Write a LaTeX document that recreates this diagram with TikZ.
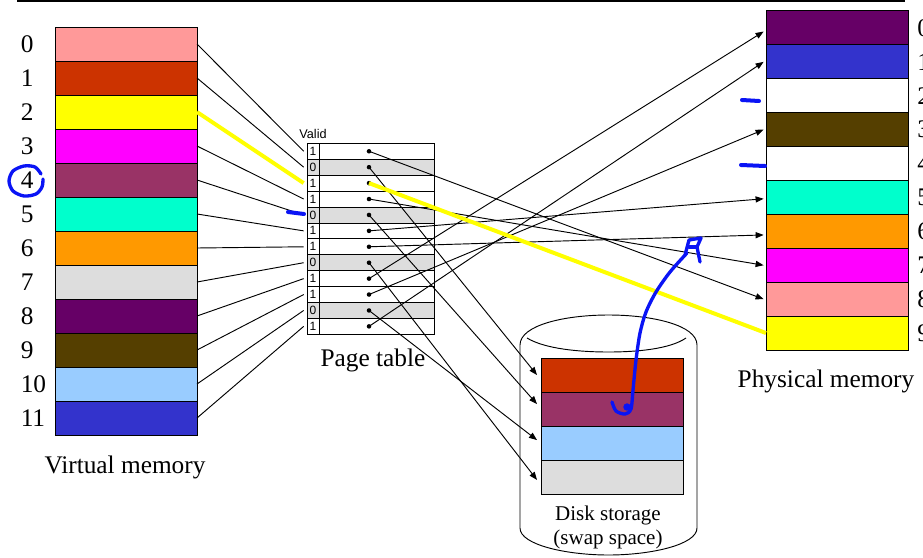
\documentclass[tikz,border=0pt]{standalone}
\usepackage{fontspec}
\setmainfont{Liberation Serif}
\newfontfamily\arialfont{Liberation Sans}
\usetikzlibrary{arrows.meta}

% page colours
\definecolor{pgpink}{HTML}{FF9999}
\definecolor{pgrust}{HTML}{CC3300}
\definecolor{pgyellow}{HTML}{FFFF00}
\definecolor{pgmagenta}{HTML}{FF00FF}
\definecolor{pgplum}{HTML}{993366}
\definecolor{pgaqua}{HTML}{00FFCC}
\definecolor{pgorange}{HTML}{FF9900}
\definecolor{pggray}{HTML}{DDDDDD}
\definecolor{pgpurple}{HTML}{660066}
\definecolor{pgbrown}{HTML}{553F00}
\definecolor{pgsky}{HTML}{99CCFF}
\definecolor{pgblue}{HTML}{3333CC}
\definecolor{inkblue}{HTML}{0A14F5}

\begin{document}
\begin{tikzpicture}[x=0.75pt,y=-0.75pt,
  cell/.style={draw=black, line width=0.75pt, inner sep=0pt, outer sep=0pt,
               minimum width=106.5pt, minimum height=25.5pt},
  numlabel/.style={inner sep=0pt, font=\fontsize{19}{22}\selectfont, anchor=west},
  caption/.style={inner sep=0pt, font=\fontsize{19}{22}\selectfont},
  ptentry/.style={draw=black, line width=0.6pt, inner sep=0pt, outer sep=0pt,
                  minimum width=86.25pt, minimum height=11.94pt},
  ptvalid/.style={draw=black, line width=0.6pt, inner sep=0pt, outer sep=0pt,
                  minimum width=9pt, minimum height=11.94pt,
                  font=\arialfont\fontsize{9}{9}\selectfont},
  ptdot/.style={circle, fill=black, inner sep=0pt, minimum size=3.4pt},
  link/.style={draw=black, line width=0.7pt},
  arrowlink/.style={link, -{Triangle[length=6pt,width=4.6pt]}},
  hilite/.style={draw=pgyellow, line width=3pt},
  ink/.style={draw=inkblue, line width=2.5pt, line cap=round, line join=round}]

\useasboundingbox (0,0) rectangle (923,557);
\clip (0,0) rectangle (923,557);

% rule along the top
\draw[line width=1.5pt] (17,1) -- (905,1);

% virtual memory
\foreach \c [count=\i from 0] in {pgpink,pgrust,pgyellow,pgmagenta,pgplum,pgaqua,
                                  pgorange,pggray,pgpurple,pgbrown,pgsky,pgblue}
  \node[cell, fill=\c] (vm\i) at (126,{44+34*\i}) {};
\foreach \i in {0,...,11}
  \node[numlabel] (vl\i) at (20.5,{44+34*\i}) {\i};
\node[caption] (vmcap) at (125,467) {Virtual memory};

% physical memory
\foreach \c [count=\i from 0] in {pgpurple,pgblue,white,pgbrown,white,pgaqua,
                                  pgorange,pgmagenta,pgpink,pgyellow}
  \node[cell, fill=\c] (pm\i) at (837,{27.95+33.9*\i}) {};
\foreach \i in {0,...,9}
  \node[numlabel] (pl\i) at (917,{27.95+33.9*\i}) {\i};
\node[caption] (pmcap) at (826,381) {Physical memory};

% disk
\draw[line width=0.7pt] (520,345) .. controls (520,325) and (565,315) .. (608.5,315)
  .. controls (652,315) and (697,325) .. (697,345) -- (697,528)
  .. controls (697,545) and (650,555) .. (608.5,555)
  .. controls (567,555) and (520,545) .. (520,528) -- cycle;
\draw[line width=0.7pt] (527,338) .. controls (545,349) and (580,352) .. (608.5,352)
  .. controls (637,352) and (670,349) .. (686,338);
\foreach \c [count=\i from 0] in {pgrust,pgplum,pgsky,pggray}
  \node[cell, fill=\c] (dk\i) at (612,{375+34*\i}) {};
\node[inner sep=0pt, align=center, font=\fontsize{15.75}{18}\selectfont]
  (dkcap) at (608,527) {Disk storage\\(swap space)};

% page table
\foreach \v [count=\i from 0] in {1,0,1,1,0,1,1,0,1,1,0,1} {
  \ifnum\v=0 \def\rowfill{pggray}\else\def\rowfill{white}\fi
  \node[ptentry, fill=\rowfill] (pe\i) at (376.5,{151.26+15.92*\i}) {};
  \node[ptvalid, fill=\rowfill] (pv\i) at (313,{151.26+15.92*\i}) {\v};
  \node[ptdot] (pd\i) at (369,{151.26+15.92*\i}) {};
}
\node[inner sep=0pt, font=\arialfont\fontsize{9.5}{10}\selectfont] (valid) at (313,134) {Valid};
\node[caption] (ptcap) at (373,360) {Page table};

% virtual pages into the table
\foreach \i in {0,1,3,4,5,6,7,8,9,10,11}
  \draw[link] (vm\i.east) -- ([xshift=-2.5pt]pv\i.west);

% resident pages to frames
\draw[arrowlink] (pd0.center) -- ([xshift=-1.8pt]pm8.west);
\draw[arrowlink] (pd3.center) -- ([xshift=-1.8pt]pm7.west);
\draw[arrowlink] (pd5.center) -- ([xshift=-1.8pt,yshift=-1pt]pm5.west);
\draw[arrowlink] (pd6.center) -- ([xshift=-1.8pt,yshift=-2.7pt]pm6.west);
\draw[arrowlink] (pd8.center) -- ([xshift=-1.8pt,yshift=-2.7pt]pm0.west);
\draw[arrowlink] (pd9.center) -- ([xshift=-1.8pt]pm3.west);
\draw[arrowlink] (pd11.center) -- ([xshift=-1.8pt]pm1.west);

% non-resident pages to swap
\draw[arrowlink] (pd1.center) -- ([xshift=-3pt]dk0.west);
\draw[arrowlink] (pd4.center) -- ([xshift=-3pt,yshift=3.7pt]dk1.west);
\draw[arrowlink] (pd10.center) -- ([xshift=-3pt,yshift=2.2pt]dk2.west);
\draw[arrowlink] (pd7.center) -- ([xshift=-3pt,yshift=-2.2pt]dk3.west);

% highlighted translation of page 2
\draw[hilite] (vm2.east) -- ([xshift=-2.5pt]pv2.west);
\draw[hilite] (pd2.center) -- (pm9.west);

% pen annotations
\draw[ink] plot[smooth] coordinates {(41,174) (35,167) (24,166) (13,171) (9,181)
  (13,191) (24,196) (36,194) (42,187) (43,179)};
\draw[ink, line width=3pt] (288,212) -- (304,214);
\draw[ink, line width=3pt] (742,100) -- (759,101);
\draw[ink, line width=3pt] (741,165) -- (765,166);
\draw[ink] plot[smooth] coordinates {(612,402) (616,411) (625,414) (631,409) (633,390)
  (636,360) (640,333) (646,312) (656,292) (670,272) (687,253)};
\fill[inkblue] (627,407) circle[radius=2.8pt];
\draw[ink] (685,255) -- (689,240) -- (701,238) -- (697,247) -- (700,262);
\draw[ink] (689,247) -- (697,247);
\end{tikzpicture}
\end{document}
